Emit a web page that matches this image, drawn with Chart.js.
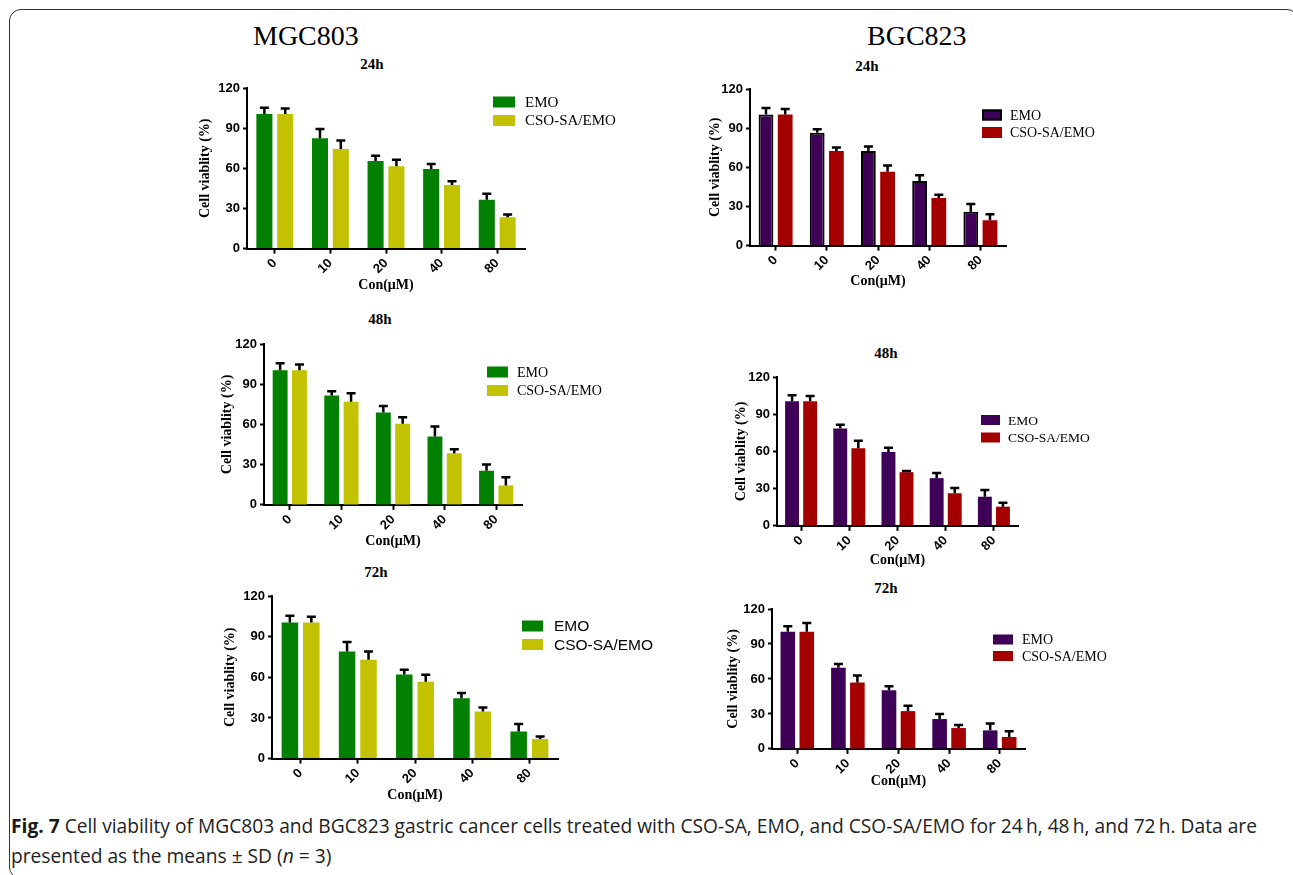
<!DOCTYPE html>
<html>
<head>
<meta charset="utf-8">
<title>Cell viability of MGC803 and BGC823</title>
<script src="https://cdn.jsdelivr.net/npm/chart.js@4.4.1/dist/chart.umd.min.js"></script>
<style>
  html, body { margin: 0; padding: 0; background: #fff; }
  body { width: 1293px; height: 875px; position: relative; overflow: hidden; }
  .frame { position: absolute; left: 9px; top: 9px; width: 1290px; height: 870px;
           border: 1.5px solid #333; border-radius: 12px; box-sizing: border-box; }
  .head { position: absolute; font-family: "Liberation Serif", "Times New Roman", serif;
          font-size: 28px; line-height: 28px; color: #000; white-space: nowrap; }
  .ptitle { position: absolute; font-family: "Liberation Serif", "Times New Roman", serif;
            font-weight: bold; font-size: 15px; line-height: 15px; color: #000;
            transform: translate(-50%, -50%); white-space: nowrap; }
  .panel { position: absolute; }
  .caption { position: absolute; left: 11px; font-family: "Open Sans", sans-serif;
             font-size: 19.2px; line-height: 30px; color: #222; white-space: nowrap; }
  .caption b { font-weight: bold; color: #1a1a1a; }
</style>
</head>
<body>
<div class="frame"></div>
<div class="head" style="left:253px; top:22px;">MGC803</div>
<div class="head" style="left:867px; top:22px;">BGC823</div>

<div class="ptitle" style="left:372px; top:64px;">24h</div>
<div class="ptitle" style="left:867px; top:66px;">24h</div>
<div class="ptitle" style="left:380px; top:319px;">48h</div>
<div class="ptitle" style="left:886px; top:353px;">48h</div>
<div class="ptitle" style="left:376px; top:572px;">72h</div>
<div class="ptitle" style="left:886px; top:588px;">72h</div>

<div class="caption" style="top:811px;"><b>Fig. 7</b> Cell viability of MGC803 and BGC823 gastric cancer cells treated with CSO-SA, EMO, and CSO-SA/EMO for 24&#8201;h, 48&#8201;h, and 72&#8201;h. Data are</div>
<div class="caption" style="top:841px;">presented as the means &#177; SD (<i>n</i> = 3)</div>

<script>
// Concentrations (µM) on the x axis
const concentrations = ['0', '10', '20', '40', '80'];
const seriesLabels = ['EMO', 'CSO-SA/EMO'];
const yTicks = [0, 30, 60, 90, 120];

// MGC803 cell viability (%) and SD
const mgc24Emo = [100.5, 82.5, 65.5, 59.5, 36.5];
const mgc24EmoSd = [4.8, 6.8, 3.8, 3.8, 4.4];
const mgc24Cso = [100.5, 74.5, 61.5, 47.5, 23.5];
const mgc24CsoSd = [4.2, 6.2, 4.8, 2.8, 2.0];

const mgc48Emo = [100.5, 81.5, 69.0, 51.0, 25.5];
const mgc48EmoSd = [5.2, 3.3, 4.8, 7.4, 4.6];
const mgc48Cso = [100.5, 77.0, 60.5, 38.5, 14.5];
const mgc48CsoSd = [4.2, 6.3, 4.8, 3.0, 6.2];

const mgc72Emo = [100.5, 79.0, 62.0, 44.5, 20.0];
const mgc72EmoSd = [5.0, 7.0, 3.6, 4.0, 5.6];
const mgc72Cso = [100.5, 73.0, 56.8, 34.8, 14.5];
const mgc72CsoSd = [4.2, 6.0, 5.0, 2.9, 1.8];

// BGC823 cell viability (%) and SD
const bgc24Emo = [100.5, 86.5, 72.5, 49.5, 26.0];
const bgc24EmoSd = [4.9, 2.7, 3.5, 4.5, 5.8];
const bgc24Cso = [100.5, 72.5, 56.5, 36.5, 19.5];
const bgc24CsoSd = [4.2, 2.7, 4.8, 2.4, 4.5];

const bgc48Emo = [100.5, 78.5, 59.5, 38.5, 23.5];
const bgc48EmoSd = [4.8, 3.0, 3.5, 4.2, 5.5];
const bgc48Cso = [100.5, 62.5, 43.3, 26.3, 15.5];
const bgc48CsoSd = [4.1, 6.2, 1.0, 4.3, 3.1];

const bgc72Emo = [100.5, 69.7, 50.3, 25.6, 15.9];
const bgc72EmoSd = [4.8, 3.2, 3.5, 4.3, 5.8];
const bgc72Cso = [100.5, 56.9, 32.4, 17.9, 10.2];
const bgc72CsoSd = [7.4, 6.0, 4.7, 2.7, 5.0];

// Colours
const green = '#018001';
const olive = '#c2c200';
const purple = '#3f0058';
const darkRed = '#a50000';

const SERIF = '"Liberation Serif", "Times New Roman", serif';
const SANS = '"Liberation Sans", Arial, sans-serif';

// Error bars (mean + SD, upward whisker with a cap)
const errorBars = {
  id: 'errorBars',
  afterDatasetsDraw(chart) {
    const ctx = chart.ctx;
    const ys = chart.scales.y;
    ctx.save();
    ctx.strokeStyle = '#000';
    ctx.lineWidth = 2.5;
    ctx.lineCap = 'butt';
    chart.data.datasets.forEach((ds, i) => {
      const meta = chart.getDatasetMeta(i);
      meta.data.forEach((bar, j) => {
        const top = ys.getPixelForValue(ds.data[j] + ds.sd[j]);
        ctx.beginPath();
        ctx.moveTo(bar.x, bar.y);
        ctx.lineTo(bar.x, top);
        ctx.moveTo(bar.x - 4.5, top);
        ctx.lineTo(bar.x + 4.5, top);
        ctx.stroke();
      });
    });
    ctx.restore();
  }
};

// Box legend to the right of the plot
const boxLegend = {
  id: 'boxLegend',
  afterDraw(chart, args, opts) {
    const ctx = chart.ctx;
    ctx.save();
    chart.data.datasets.forEach((ds, i) => {
      const y = opts.y[i];
      ctx.fillStyle = ds.backgroundColor;
      ctx.fillRect(opts.boxX, y - opts.boxH / 2, opts.boxW, opts.boxH);
      if (ds.borderWidth) {
        ctx.strokeStyle = ds.borderColor;
        ctx.lineWidth = ds.borderWidth;
        ctx.strokeRect(opts.boxX + 1, y - opts.boxH / 2 + 1, opts.boxW - 2, opts.boxH - 2);
      }
      ctx.fillStyle = '#000';
      ctx.font = opts.font;
      ctx.textBaseline = 'middle';
      ctx.textAlign = 'left';
      ctx.fillText(ds.label, opts.textX, y + 1);
    });
    ctx.restore();
  }
};

// Panel layouts (page pixels): plot area, axis title offsets, legend placement
const panels = [
  { area: { l: 247, r: 525, t: 88, b: 249 }, yTitleOff: 42, xTitleOff: 37,
    series: [mgc24Emo, mgc24Cso], sds: [mgc24EmoSd, mgc24CsoSd], colors: [green, olive], outline: false,
    legend: { boxX: 493, boxW: 22, boxH: 11, textX: 525, y: [102, 120.5], font: '15px ' + SERIF } },
  { area: { l: 750, r: 1006, t: 89, b: 246 }, yTitleOff: 35, xTitleOff: 36,
    series: [bgc24Emo, bgc24Cso], sds: [bgc24EmoSd, bgc24CsoSd], colors: [purple, darkRed], outline: true,
    legend: { boxX: 982, boxW: 20, boxH: 11, textX: 1010, y: [115, 132.5], font: '14px ' + SERIF } },
  { area: { l: 264, r: 522, t: 344, b: 505 }, yTitleOff: 37, xTitleOff: 36.7,
    series: [mgc48Emo, mgc48Cso], sds: [mgc48EmoSd, mgc48CsoSd], colors: [green, olive], outline: false,
    legend: { boxX: 487, boxW: 21, boxH: 11, textX: 517, y: [372, 390.5], font: '14px ' + SERIF } },
  { area: { l: 777, r: 1018, t: 377, b: 526 }, yTitleOff: 36, xTitleOff: 34.7,
    series: [bgc48Emo, bgc48Cso], sds: [bgc48EmoSd, bgc48CsoSd], colors: [purple, darkRed], outline: false,
    legend: { boxX: 981, boxW: 19, boxH: 10, textX: 1008, y: [420, 437.5], font: '13.5px ' + SERIF } },
  { area: { l: 272, r: 558, t: 596, b: 759 }, yTitleOff: 42, xTitleOff: 37,
    series: [mgc72Emo, mgc72Cso], sds: [mgc72EmoSd, mgc72CsoSd], colors: [green, olive], outline: false,
    legend: { boxX: 522, boxW: 21, boxH: 11, textX: 554, y: [626, 644.5], font: '15.5px ' + SANS } },
  { area: { l: 772, r: 1025, t: 609, b: 749 }, yTitleOff: 39, xTitleOff: 32.7,
    series: [bgc72Emo, bgc72Cso], sds: [bgc72EmoSd, bgc72CsoSd], colors: [purple, darkRed], outline: false,
    legend: { boxX: 993, boxW: 20, boxH: 10, textX: 1022, y: [639.5, 656], font: '14px ' + SERIF } }
];

const YW = 60;       // fixed width of the y scale box
const PT = 12;       // space above the plot
const LEG = 160;     // room for the legend on the right
const TITLE_SIZE = 14;
const TITLE_LH = TITLE_SIZE * 1.2;

function makePanel(p) {
  const a = p.area;
  const XH = p.xTitleOff + TITLE_LH / 2 + 4;
  const left = a.l - YW;
  const top = a.t - PT;
  const w = Math.round((a.r - a.l) + YW + LEG);
  const h = Math.round((a.b - a.t) + PT + XH);

  const holder = document.createElement('div');
  holder.className = 'panel';
  holder.style.left = left + 'px';
  holder.style.top = top + 'px';
  holder.style.width = w + 'px';
  holder.style.height = h + 'px';
  const canvas = document.createElement('canvas');
  canvas.width = w;
  canvas.height = h;
  canvas.style.width = w + 'px';
  canvas.style.height = h + 'px';
  holder.appendChild(canvas);
  document.body.appendChild(holder);

  const datasets = p.series.map((vals, i) => ({
    label: seriesLabels[i],
    data: vals,
    sd: p.sds[i],
    backgroundColor: p.colors[i],
    borderColor: '#000',
    borderWidth: (p.outline && i === 0) ? 2 : 0,
    categoryPercentage: 0.75,
    barPercentage: 0.77
  }));

  const lg = p.legend;
  new Chart(canvas, {
    type: 'bar',
    data: { labels: concentrations, datasets },
    plugins: [errorBars, boxLegend],
    options: {
      responsive: false,
      animation: false,
      layout: { padding: { top: PT, right: (w - YW) - (a.r - a.l), left: 0, bottom: 0 } },
      plugins: {
        legend: { display: false },
        title: { display: false },
        tooltip: { enabled: false },
        boxLegend: {
          boxX: lg.boxX - left, boxW: lg.boxW, boxH: lg.boxH,
          textX: lg.textX - left, y: lg.y.map(v => v - top), font: lg.font
        }
      },
      scales: {
        x: {
          offset: true,
          grid: { display: true, drawOnChartArea: false, drawTicks: true, offset: false,
                  tickLength: 5, tickWidth: 2, tickColor: '#000', color: '#000' },
          border: { display: true, color: '#000', width: 2 },
          ticks: { color: '#000', minRotation: 45, maxRotation: 45, padding: 2,
                   font: { family: SANS, size: 13, weight: 'bold' } },
          title: { display: true, text: 'Con(\u03BCM)', color: '#000',
                   padding: { top: 0, bottom: 4 },
                   font: { family: SERIF, size: TITLE_SIZE, weight: 'bold', lineHeight: 1.2 } },
          afterFit: (s) => { s.height = XH; }
        },
        y: {
          min: 0, max: 120,
          afterBuildTicks: (s) => { s.ticks = yTicks.map(v => ({ value: v })); },
          grid: { display: true, drawOnChartArea: false, drawTicks: true,
                  tickLength: 4, tickWidth: 2, tickColor: '#000', color: '#000' },
          border: { display: true, color: '#000', width: 2 },
          ticks: { color: '#000', padding: 3, font: { family: SANS, size: 13, weight: 'bold' } },
          title: { display: true, text: 'Cell viablity (%)', color: '#000',
                   padding: { top: YW - p.yTitleOff - TITLE_LH / 2, bottom: 0 },
                   font: { family: SERIF, size: TITLE_SIZE, weight: 'bold', lineHeight: 1.2 } },
          afterFit: (s) => { s.width = YW; }
        }
      }
    }
  });
}

panels.forEach(makePanel);
</script>
</body>
</html>
